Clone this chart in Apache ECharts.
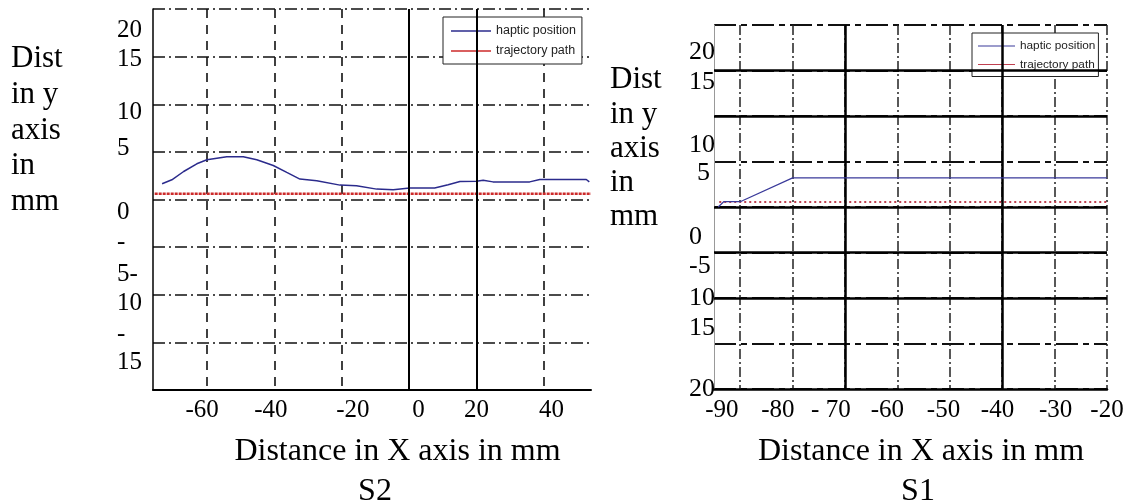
<!DOCTYPE html>
<html>
<head>
<meta charset="utf-8">
<script src="https://cdn.jsdelivr.net/npm/echarts@6/dist/echarts.min.js"></script>
<style>
html,body{margin:0;padding:0;background:#fff;}
#c{width:1133px;height:504px;}
</style>
</head>
<body>
<div id="c"></div>
<script>
// ---------- data: S2 (left) ----------
const s2HapticX = [-73.3,-70.4,-66.9,-63,-60,-54.1,-49.2,-45.2,-40.3,-36.3,-32.4,-27.4,-20.5,-15.6,-9.6,-4.7,0.2,7.6,11.6,15.1,20,22,24.9,35.8,38.8,52.6,53.5];
const s2HapticY = [1.65,2.07,2.94,3.75,4.17,4.49,4.49,4.17,3.57,2.84,2.14,1.96,1.51,1.44,1.09,1.02,1.2,1.2,1.54,1.89,1.92,2.03,1.85,1.85,2.1,2.1,1.85];
const s2TrajX = [-75.5, 54];
const s2TrajY = [0.6, 0.6];
const s2GridX = [-60,-40,-20,0,20,40];
const s2SolidX = [0, 20];
// tick label texts and where they sit on the axis (as printed in the figure)
const s2XLabelText = ['-60','-40','-20','0','20','40'];
const s2XLabelAt = [-61.4,-41,-16.7,2.8,20,42.3];
const s2YLabelText = ['20','15','10','5','0','-','5-','10','-','15'];
const s2YLabelAt = [17.8,14.7,9.1,5.4,-1.4,-4.5,-7.9,-10.95,-14.2,-17.15];

// ---------- data: S1 (right) ----------
const s1HapticX = [-94.2,-93.1,-89.9,-80,-20];
const s1HapticY = [0,0.6,0.6,3.2,3.2];
const s1TrajX = [-94,-20];
const s1TrajY = [0.55,0.55];
const s1GridX = [-90,-80,-70,-60,-50,-40,-30,-20];
const s1SolidX = [-70,-40];
const s1SolidY = [15,10,0,-5,-10];
const s1XLabelText = ['-90','-80','- 70','-60','-50','-40','-30','-20'];
const s1XLabelAt = [-93.5,-82.8,-72.7,-61.9,-51.2,-40.9,-29.8,-20];
const s1YLabelText = ['20','15','10','5','0','-5','10','15','20'];
const s1YLabelAt = [16.96,13.67,6.83,3.72,-3.27,-6.49,-10,-13.3,-20];

const seriesNames = ['haptic position','trajectory path'];
const xName = 'Distance in X axis in mm';
const yName = 'Dist\nin y\naxis\nin\nmm';
const panelNames = ['S2','S1'];

// ---------- helpers ----------
function pairs(xs, ys){ return xs.map((x,i)=>[x, ys[i]]); }
function pick(texts, at){
  return function(v){
    let best = 0, bd = Infinity;
    for (let i=0;i<at.length;i++){ const d=Math.abs(at[i]-v); if(d<bd){bd=d;best=i;} }
    return texts[best];
  };
}
const SERIF = '"Liberation Serif","Times New Roman",serif';
const SANS = '"Liberation Sans",Arial,sans-serif';
const dashDot = [12,4,2,4];

const chart = echarts.init(document.getElementById('c'), null, {renderer:'canvas'});

const option = {
  backgroundColor:'#fff',
  animation:false,
  grid:[
    {left:153, top:9, width:438, height:381, outerBoundsMode:'none', containLabel:false},
    {left:714, top:25, width:393, height:364, outerBoundsMode:'none', containLabel:false}
  ],
  xAxis:[
    {type:'value', gridIndex:0, min:-76, max:54,
      axisLine:{show:true, onZero:false, lineStyle:{color:'#000', width:2}},
      axisTick:{show:false, customValues:s2GridX},
      splitLine:{show:true, lineStyle:{color:'#111', width:1.6, type:[9,7]}},
      axisLabel:{customValues:s2XLabelAt, formatter:pick(s2XLabelText,s2XLabelAt),
        fontFamily:SERIF, fontSize:25, color:'#000', margin:8}
    },
    {type:'value', gridIndex:1, min:-95, max:-20,
      axisLine:{show:true, onZero:false, lineStyle:{color:'#000', width:2.5}},
      axisTick:{show:false, customValues:s1GridX},
      splitLine:{show:true, lineStyle:{color:'#222', width:1.5, type:[10,3,2,3]}},
      axisLabel:{customValues:s1XLabelAt, formatter:pick(s1XLabelText,s1XLabelAt),
        fontFamily:SERIF, fontSize:25, color:'#000', margin:9}
    }
  ],
  yAxis:[
    {type:'value', gridIndex:0, min:-20, max:20, interval:5,
      axisLine:{show:true, onZero:false, lineStyle:{color:'#000', width:1.5}},
      axisTick:{show:false},
      splitLine:{show:true, lineStyle:{color:'#111', width:1.5, type:dashDot}},
      axisLabel:{customValues:s2YLabelAt, formatter:pick(s2YLabelText,s2YLabelAt),
        fontFamily:SERIF, fontSize:25, color:'#000', margin:36, align:'left'}
    },
    {type:'value', gridIndex:1, min:-20, max:20, interval:5,
      axisLine:{show:true, onZero:false, lineStyle:{color:'#999', width:1}},
      axisTick:{show:false},
      splitLine:{show:true, lineStyle:{color:'#111', width:2, type:[22,5,6,5]}},
      axisLabel:{customValues:s1YLabelAt,
        formatter:function(v){ const t = pick(s1YLabelText,s1YLabelAt)(v); return t==='5' ? '{p|5}' : t; },
        rich:{p:{fontFamily:SERIF, fontSize:26, color:'#000', padding:[0,0,0,8]}},
        fontFamily:SERIF, fontSize:26, color:'#000', margin:25, align:'left'}
    }
  ],
  legend:[
    {show:true, left:443, top:17, orient:'vertical', padding:[7,6,6,8], itemWidth:40, itemHeight:1.5, itemGap:6,
      icon:'rect', borderColor:'#222', borderWidth:1, backgroundColor:'#fff',
      textStyle:{fontFamily:SANS, fontSize:12.5, color:'#222', lineHeight:14},
      data:[
        {name:seriesNames[0], icon:'rect', itemStyle:{color:'#2b2b8c', borderWidth:0}},
        {name:seriesNames[1], icon:'rect', itemStyle:{color:'#cc2a2a', borderWidth:0}}
      ]},
    {show:true, left:972, top:33, orient:'vertical', padding:[7,3,6,6], itemWidth:37, itemHeight:1.2, itemGap:6.5,
      icon:'rect', borderColor:'#222', borderWidth:1, backgroundColor:'#fff',
      textStyle:{fontFamily:SANS, fontSize:11.8, color:'#222', lineHeight:12},
      data:[
        {name:seriesNames[0], icon:'rect', itemStyle:{color:'#3a3a9a', borderWidth:0}},
        {name:seriesNames[1], icon:'rect', itemStyle:{color:'#c04050', borderWidth:0}}
      ]}
  ],
  series:[
    {name:seriesNames[1], type:'line', xAxisIndex:0, yAxisIndex:0, data:pairs(s2TrajX,s2TrajY),
      symbol:'none', lineStyle:{color:'#cc2a2a', width:2.5, type:[3,1]}},
    {name:seriesNames[0], type:'line', xAxisIndex:0, yAxisIndex:0, data:pairs(s2HapticX,s2HapticY),
      symbol:'none', lineStyle:{color:'#2b2b8c', width:1.5},
      markLine:{silent:true, symbol:'none', label:{show:false}, animation:false,
        lineStyle:{color:'#000', type:'solid', width:2},
        data:s2SolidX.map(v=>({xAxis:v}))}},
    {name:seriesNames[1], type:'line', xAxisIndex:1, yAxisIndex:1, data:pairs(s1TrajX,s1TrajY),
      symbol:'none', lineStyle:{color:'#c04050', width:2, type:[2,3]},
      markLine:{silent:true, symbol:'none', label:{show:false}, animation:false,
        lineStyle:{color:'#000', type:'solid', width:2.5},
        data:s1SolidY.map(v=>({yAxis:v})).concat(s1SolidX.map(v=>({xAxis:v})))}},
    {name:seriesNames[0], type:'line', xAxisIndex:1, yAxisIndex:1, data:pairs(s1HapticX,s1HapticY),
      symbol:'none', z:5, lineStyle:{color:'#3a3a9a', width:1.2}}
  ],
  graphic:[
    {type:'text', x:11, y:41, style:{text:yName, font:'31px '+SERIF, fill:'#000', lineHeight:35.8, align:'left', verticalAlign:'top', textAlign:'left', textVerticalAlign:'top'}},
    {type:'text', x:610, y:63, style:{text:yName, font:'31px '+SERIF, fill:'#000', lineHeight:34.3, align:'left', verticalAlign:'top', textAlign:'left', textVerticalAlign:'top'}},
    {type:'text', x:397.5, y:452, style:{text:xName, font:'32px '+SERIF, fill:'#000', align:'center', verticalAlign:'middle', textAlign:'center', textVerticalAlign:'middle'}},
    {type:'text', x:921, y:452, style:{text:xName, font:'32px '+SERIF, fill:'#000', align:'center', verticalAlign:'middle', textAlign:'center', textVerticalAlign:'middle'}},
    {type:'text', x:375, y:492, style:{text:panelNames[0], font:'32px '+SERIF, fill:'#000', align:'center', verticalAlign:'middle', textAlign:'center', textVerticalAlign:'middle'}},
    {type:'text', x:918, y:492, style:{text:panelNames[1], font:'32px '+SERIF, fill:'#000', align:'center', verticalAlign:'middle', textAlign:'center', textVerticalAlign:'middle'}}
  ]
};
chart.setOption(option);
</script>
</body>
</html>
